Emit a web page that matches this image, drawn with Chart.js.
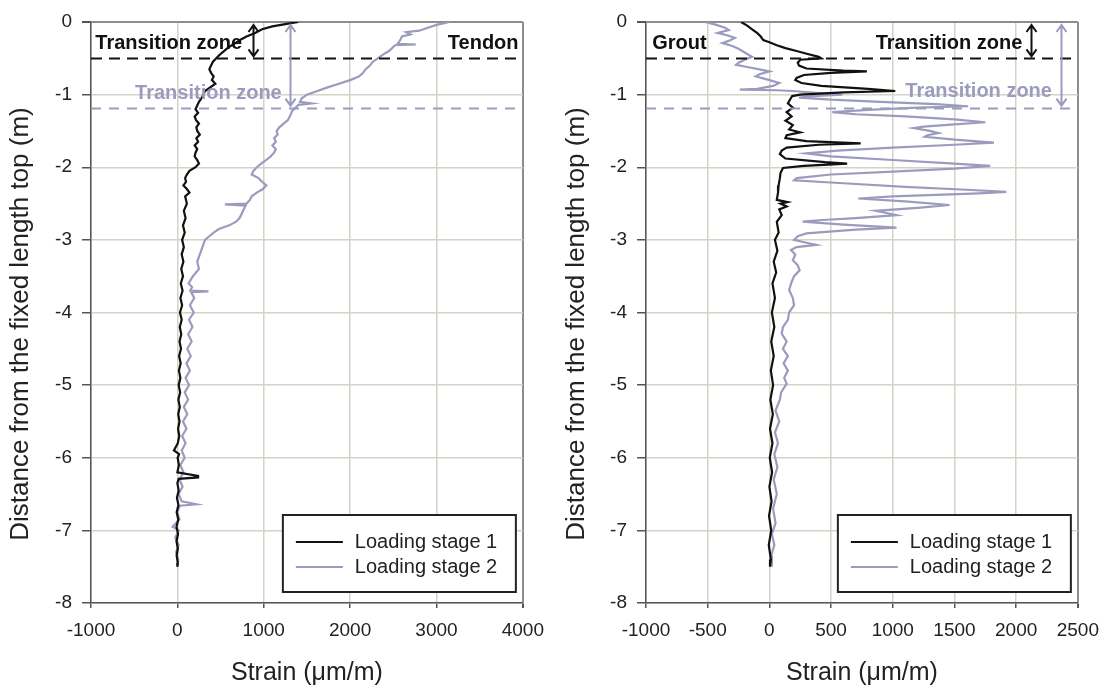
<!DOCTYPE html>
<html>
<head>
<meta charset="utf-8">
<script src="https://cdn.jsdelivr.net/npm/chart.js@4.4.1/dist/chart.umd.min.js"></script>
<style>
  html, body { margin: 0; padding: 0; background: #fff; }
  #wrap { position: relative; width: 1110px; height: 688px; }
  canvas { position: absolute; top: 0; }
</style>
</head>
<body>
<div id="wrap">
  <canvas id="tendon" width="555" height="688" style="left:0"></canvas>
  <canvas id="grout" width="555" height="688" style="left:555px"></canvas>
</div>
<script>
// Strain profiles along the fixed length.
// depth in m (0 = top of fixed length), strain in µm/m

// Tendon, loading stage 1
const tendonDepth1 = [
  0, -0.03, -0.06, -0.10, -0.15, -0.20, -0.25, -0.30, -0.35, -0.40,
  -0.45, -0.50, -0.55, -0.60, -0.65, -0.70, -0.75, -0.80, -0.85, -0.90,
  -0.95, -1.00, -1.05, -1.10, -1.15, -1.20, -1.25, -1.30, -1.35, -1.40,
  -1.45, -1.50, -1.55, -1.60, -1.65, -1.70, -1.75, -1.80, -1.85, -1.90,
  -1.95, -2.00, -2.05, -2.10, -2.15, -2.20, -2.25, -2.30, -2.35, -2.40,
  -2.50, -2.60, -2.70, -2.80, -2.90, -3.00, -3.10, -3.20, -3.30, -3.40,
  -3.50, -3.60, -3.70, -3.80, -3.90, -4.00, -4.10, -4.20, -4.30, -4.40,
  -4.50, -4.60, -4.70, -4.80, -4.90, -5.00, -5.10, -5.20, -5.30, -5.40,
  -5.50, -5.60, -5.70, -5.80, -5.90, -5.95, -6.00, -6.10, -6.20, -6.25,
  -6.27, -6.29, -6.35, -6.45, -6.55, -6.65, -6.75, -6.85, -6.95, -7.05,
  -7.15, -7.25, -7.35, -7.45, -7.50
];
const tendonStrain1 = [
  1400, 1250, 1100, 980, 900, 800, 720, 660, 590, 540,
  490, 450, 410, 390, 370, 390, 420, 400, 440, 380,
  320, 300, 280, 250, 230, 210, 240, 200, 215, 250,
  220, 230, 260, 220, 240, 200, 230, 210, 200, 230,
  250, 210, 140, 110, 90, 100, 70, 110, 140, 90,
  110, 75, 95, 65, 85, 55, 75, 50, 70, 45,
  65, 40, 60, 35, 55, 30, 50, 28, 45, 25,
  42, 20, 38, 18, 35, 15, 32, 12, 28, 10,
  25, 8, 22, 5, -40, 20, 3, 18, 0, 240,
  240, 15, 0, 15, -5, 12, -8, 10, -10, 8,
  -10, 5, -8, 5, 0
];

// Tendon, loading stage 2
const tendonDepth2 = [
  0, -0.04, -0.08, -0.12, -0.14, -0.17, -0.20, -0.25, -0.30, -0.31,
  -0.32, -0.40, -0.45, -0.50, -0.55, -0.60, -0.65, -0.70, -0.75, -0.80,
  -0.85, -0.90, -0.95, -1.00, -1.05, -1.10, -1.12, -1.14, -1.18, -1.22,
  -1.28, -1.35, -1.40, -1.45, -1.50, -1.55, -1.60, -1.65, -1.70, -1.75,
  -1.80, -1.85, -1.90, -1.95, -2.00, -2.05, -2.10, -2.15, -2.20, -2.25,
  -2.30, -2.35, -2.40, -2.45, -2.50, -2.51, -2.53, -2.60, -2.65, -2.70,
  -2.75, -2.80, -2.85, -2.90, -2.95, -3.00, -3.10, -3.20, -3.30, -3.40,
  -3.50, -3.60, -3.65, -3.70, -3.71, -3.72, -3.80, -3.90, -4.00, -4.10,
  -4.20, -4.30, -4.40, -4.50, -4.60, -4.70, -4.80, -4.90, -5.00, -5.10,
  -5.20, -5.30, -5.40, -5.50, -5.60, -5.70, -5.80, -5.90, -6.00, -6.10,
  -6.20, -6.30, -6.40, -6.50, -6.60, -6.64, -6.66, -6.75, -6.85, -6.95,
  -7.00, -7.10, -7.20, -7.30, -7.40, -7.50
];
const tendonStrain2 = [
  3150, 3000, 2900, 2800, 2650, 2700, 2600, 2580, 2550, 2760,
  2520, 2450, 2380, 2320, 2260, 2230, 2180, 2150, 2100, 2000,
  1870, 1740, 1620, 1500, 1440, 1420, 1550, 1400, 1370, 1330,
  1310, 1280, 1230, 1180, 1150, 1160, 1120, 1140, 1100, 1140,
  1120, 1080, 1030, 970, 920, 880, 860, 940, 980, 1030,
  990, 920, 860, 840, 800, 550, 790, 760, 740, 720,
  680, 600, 480, 420, 370, 320, 290, 260, 230, 250,
  180, 130, 170, 150, 360, 160, 195, 145, 190, 135,
  175, 125, 165, 115, 155, 105, 145, 95, 135, 85,
  125, 75, 115, 65, 105, 55, 95, 50, 85, 35,
  70, 25, 60, 15, 50, 220, 30, 0, 25, -55,
  15, -25, 15, -15, 10, 0
];

// Grout, loading stage 1
const groutDepth1 = [
  0, -0.05, -0.10, -0.15, -0.20, -0.25, -0.28, -0.32, -0.36, -0.40,
  -0.44, -0.48, -0.50, -0.52, -0.56, -0.60, -0.64, -0.67, -0.68, -0.70,
  -0.73, -0.77, -0.80, -0.84, -0.88, -0.92, -0.95, -0.97, -1.00, -1.02,
  -1.06, -1.12, -1.18, -1.24, -1.30, -1.36, -1.42, -1.48, -1.52, -1.56,
  -1.60, -1.64, -1.67, -1.69, -1.73, -1.77, -1.82, -1.88, -1.93, -1.95,
  -1.98, -2.01, -2.08, -2.15, -2.25, -2.35, -2.45, -2.48, -2.50, -2.54,
  -2.58, -2.66, -2.75, -2.90, -3.00, -3.15, -3.30, -3.45, -3.60, -3.80,
  -4.00, -4.20, -4.40, -4.60, -4.80, -5.00, -5.20, -5.40, -5.60, -5.80,
  -6.00, -6.20, -6.40, -6.60, -6.80, -7.00, -7.20, -7.40, -7.50
];
const groutStrain1 = [
  -230, -180, -140, -100, -70, -50, 0, 60, 130, 220,
  310, 400, 420, 250, 230, 240, 300, 600, 790, 500,
  280, 220, 210, 260, 420, 800, 1020, 600, 250, 185,
  170, 150, 190, 140, 180, 130, 190, 160, 250, 140,
  130, 300, 740, 400, 140, 100, 85, 130, 450, 630,
  280, 110, 90, 85, 75, 70, 60, 145, 90, 140,
  80, 100, 60, 75, 45, 65, 35, 55, 25, 45,
  20, 40, 15, 35, 12, 30, 8, 28, 5, 25,
  3, 22, 0, 18, -3, 15, -5, 12, 5
];

// Grout, loading stage 2
const groutDepth2 = [
  0, -0.04, -0.08, -0.11, -0.15, -0.19, -0.22, -0.26, -0.29, -0.33,
  -0.36, -0.40, -0.44, -0.48, -0.52, -0.56, -0.59, -0.62, -0.66, -0.68,
  -0.72, -0.75, -0.79, -0.84, -0.88, -0.92, -0.93, -0.94, -0.95, -0.98,
  -1.00, -1.02, -1.04, -1.07, -1.10, -1.13, -1.16, -1.18, -1.21, -1.24,
  -1.27, -1.30, -1.34, -1.38, -1.41, -1.44, -1.46, -1.50, -1.53, -1.56,
  -1.58, -1.62, -1.66, -1.69, -1.73, -1.77, -1.81, -1.85, -1.90, -1.95,
  -1.98, -2.02, -2.06, -2.10, -2.15, -2.18, -2.22, -2.27, -2.31, -2.34,
  -2.36, -2.40, -2.43, -2.47, -2.52, -2.56, -2.60, -2.63, -2.66, -2.70,
  -2.73, -2.75, -2.79, -2.83, -2.86, -2.91, -2.95, -3.00, -3.04, -3.07,
  -3.10, -3.14, -3.20, -3.28, -3.35, -3.42, -3.50, -3.58, -3.69, -3.80,
  -3.90, -4.00, -4.10, -4.20, -4.29, -4.40, -4.50, -4.60, -4.70, -4.80,
  -4.90, -4.98, -5.10, -5.20, -5.35, -5.50, -5.65, -5.80, -5.95, -6.13,
  -6.30, -6.50, -6.70, -6.90, -7.05, -7.20, -7.35, -7.50
];
const groutStrain2 = [
  -520, -430, -360, -330, -420, -330, -280, -330, -380, -300,
  -260, -220, -180, -140, -200, -250, -270, -180, -60, 0,
  -80, -110, -20, 80, 30, -100, -240, 60, 190, 400,
  590, 350, 240, 500, 900, 1350, 1610, 1200, 800, 510,
  700, 1100, 1500, 1750, 1500, 1250, 1170, 1300, 1370, 1280,
  1260, 1500, 1820, 1500, 1000, 550, 300, 500, 1000, 1500,
  1790, 1500, 1000, 500, 220, 200, 600, 1100, 1600, 1920,
  1700, 1000, 720, 1100, 1460, 1200, 860, 950, 1030, 700,
  400, 270, 600, 1030, 700, 300, 230, 200, 300, 380,
  220, 175, 210, 190, 230, 245, 200, 180, 160, 190,
  200, 160, 150, 110, 100, 140, 110, 150, 115, 150,
  120, 140, 95, 85, 50, 80, 45, 70, 40, 65,
  35, 60, 30, 50, 20, 40, 15, 20
];

// transition zone boundaries (m)
const stage1Boundary = -0.5;
const stage2Boundary = -1.18;

const BLACK = "#111111";
const LAVENDER = "#9b9bbd";
const FONT = "'Liberation Sans', Arial, sans-serif";

const toPoints = (strain, depth) => strain.map((s, i) => ({ x: s, y: depth[i] }));

// dashed boundaries, double arrows and zone captions
const zonePlugin = {
  id: "zones",
  afterDatasetsDraw(chart, args, opts) {
    const { ctx, chartArea: a, scales: { x, y } } = chart;
    ctx.save();

    opts.lines.forEach(l => {
      const py = Math.round(y.getPixelForValue(l.depth)) + 0.5;
      ctx.strokeStyle = l.color;
      ctx.lineWidth = 2;
      ctx.setLineDash(l.dash);
      ctx.beginPath();
      ctx.moveTo(a.left, py);
      ctx.lineTo(a.right, py);
      ctx.stroke();
    });
    ctx.setLineDash([]);

    opts.arrows.forEach(ar => {
      const px = Math.round(x.getPixelForValue(ar.strain)) + 0.5;
      const y0 = y.getPixelForValue(0) + 3;
      const y1 = y.getPixelForValue(ar.depth) - 2;
      ctx.strokeStyle = ar.color;
      ctx.lineWidth = 2;
      ctx.beginPath();
      ctx.moveTo(px, y0);
      ctx.lineTo(px, y1);
      ctx.moveTo(px - 5, y0 + 7);
      ctx.lineTo(px, y0);
      ctx.lineTo(px + 5, y0 + 7);
      ctx.moveTo(px - 5, y1 - 7);
      ctx.lineTo(px, y1);
      ctx.lineTo(px + 5, y1 - 7);
      ctx.stroke();
    });

    ctx.font = "bold 20px " + FONT;
    ctx.textBaseline = "middle";
    opts.labels.forEach(t => {
      ctx.fillStyle = t.color;
      ctx.textAlign = t.align;
      ctx.fillText(t.text, x.getPixelForValue(t.strain), y.getPixelForValue(t.depth));
    });
    ctx.restore();
  }
};

// boxed legend in the lower right corner of the plot, plus the vertical axis title
const boxLegend = {
  id: "boxLegend",
  afterDraw(chart, args, opts) {
    const { ctx, chartArea: a } = chart;
    const w = 233, h = 77;
    const left = a.right - 7 - w;
    const top = a.bottom - 11 - h;
    ctx.save();
    ctx.fillStyle = "#fff";
    ctx.fillRect(left, top, w, h);
    ctx.strokeStyle = "#222";
    ctx.lineWidth = 2;
    ctx.strokeRect(left, top, w, h);
    ctx.font = "20px " + FONT;
    ctx.textAlign = "left";
    ctx.textBaseline = "middle";
    chart.data.datasets.forEach((ds, i) => {
      const ry = top + 27 + i * 25;
      ctx.strokeStyle = ds.borderColor;
      ctx.lineWidth = 2;
      ctx.beginPath();
      ctx.moveTo(left + 13, ry);
      ctx.lineTo(left + 60, ry);
      ctx.stroke();
      ctx.fillStyle = "#222";
      ctx.fillText(ds.label, left + 72, ry);
    });

    // y axis title, centred a little below the plot middle as in the original
    ctx.translate(opts.titleX, opts.titleY);
    ctx.rotate(-Math.PI / 2);
    ctx.font = "26px " + FONT;
    ctx.textAlign = "center";
    ctx.fillStyle = "#222";
    ctx.fillText("Distance from the fixed length top (m)", 0, 0);
    ctx.restore();
  }
};

function makeChart(id, cfg) {
  const gridColor = max => c => (c.tick && c.tick.value === max ? "#8d8d8d" : "#d3d3c7");
  const gridWidth = max => c => (c.tick && c.tick.value === max ? 2 : 1.5);
  return new Chart(document.getElementById(id), {
    type: "scatter",
    data: {
      datasets: [
        {
          label: "Loading stage 1",
          data: toPoints(cfg.s1, cfg.d1),
          showLine: true, borderColor: BLACK, borderWidth: 2.2,
          pointRadius: 0, tension: 0
        },
        {
          label: "Loading stage 2",
          data: toPoints(cfg.s2, cfg.d2),
          showLine: true, borderColor: LAVENDER, borderWidth: 2.2,
          pointRadius: 0, tension: 0
        }
      ]
    },
    options: {
      responsive: false,
      animation: false,
      layout: { padding: { top: 22, right: cfg.padRight, left: 0, bottom: 0 } },
      scales: {
        x: {
          type: "linear",
          min: cfg.xMin, max: cfg.xMax,
          ticks: {
            stepSize: cfg.xStep, autoSkip: false, maxRotation: 0, padding: 11,
            color: "#222", font: { family: FONT, size: 19 },
            callback: v => String(v)
          },
          grid: { color: gridColor(cfg.xMax), lineWidth: gridWidth(cfg.xMax), tickLength: 5, tickColor: "#555" },
          border: { color: "#555", width: 1.5 },
          title: {
            display: true, text: "Strain (μm/m)", color: "#222",
            font: { family: FONT, size: 25 }, padding: { top: 0, bottom: 0 }
          },
          afterFit: s => { s.height = 85; }
        },
        y: {
          type: "linear",
          min: -8, max: 0,
          ticks: {
            stepSize: 1, autoSkip: false, padding: 10,
            color: "#222", font: { family: FONT, size: 19 },
            callback: v => String(v)
          },
          grid: { color: gridColor(0), lineWidth: gridWidth(0), tickLength: 9, tickColor: "#555" },
          border: { color: "#555", width: 1.5 },
          afterFit: s => { s.width = cfg.yWidth; }
        }
      },
      plugins: {
        legend: { display: false },
        tooltip: { enabled: false },
        zones: cfg.zones,
        boxLegend: { titleX: cfg.yTitleX, titleY: 324 }
      }
    },
    plugins: [zonePlugin, boxLegend]
  });
}

makeChart("tendon", {
  d1: tendonDepth1, s1: tendonStrain1, d2: tendonDepth2, s2: tendonStrain2,
  xMin: -1000, xMax: 4000, xStep: 1000, padRight: 31, yWidth: 91, yTitleX: 21,
  zones: {
    lines: [
      { depth: stage1Boundary, color: BLACK, dash: [11, 7] },
      { depth: stage2Boundary, color: LAVENDER, dash: [10, 8] }
    ],
    arrows: [
      { strain: 875, depth: stage1Boundary, color: BLACK },
      { strain: 1300, depth: stage2Boundary, color: LAVENDER }
    ],
    labels: [
      { text: "Transition zone", strain: -950, depth: -0.29, align: "left", color: BLACK },
      { text: "Tendon", strain: 3950, depth: -0.29, align: "right", color: BLACK },
      { text: "Transition zone", strain: -490, depth: -0.98, align: "left", color: LAVENDER }
    ]
  }
});

makeChart("grout", {
  d1: groutDepth1, s1: groutStrain1, d2: groutDepth2, s2: groutStrain2,
  xMin: -1000, xMax: 2500, xStep: 500, padRight: 29, yWidth: 91, yTitleX: 22,
  zones: {
    lines: [
      { depth: stage1Boundary, color: BLACK, dash: [11, 7] },
      { depth: stage2Boundary, color: LAVENDER, dash: [10, 8] }
    ],
    arrows: [
      { strain: 2120, depth: stage1Boundary, color: BLACK },
      { strain: 2360, depth: stage2Boundary, color: LAVENDER }
    ],
    labels: [
      { text: "Grout", strain: -950, depth: -0.29, align: "left", color: BLACK },
      { text: "Transition zone", strain: 2050, depth: -0.29, align: "right", color: BLACK },
      { text: "Transition zone", strain: 2290, depth: -0.96, align: "right", color: LAVENDER }
    ]
  }
});
</script>
</body>
</html>
